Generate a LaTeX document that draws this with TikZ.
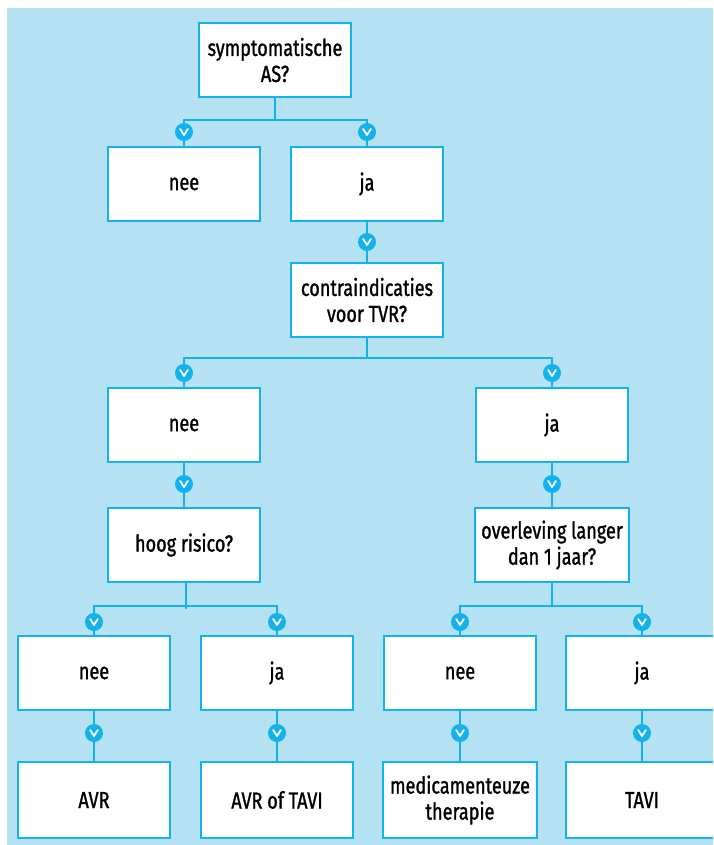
\documentclass[tikz,border=0pt]{standalone}
\usepackage{fontspec}
\setmainfont{Fira Sans}[FakeStretch=0.78, FakeBold=1.2]
\definecolor{lineblue}{RGB}{20,178,234}
\definecolor{bgblue}{RGB}{181,226,242}

\begin{document}
\begin{tikzpicture}[x=0.5pt,y=-0.5pt]
  \tikzstyle{box} = [rectangle, draw=lineblue, line width=1pt, fill=white, minimum width=76pt, minimum height=37pt, align=center, font=\fontsize{11.6}{13}\selectfont]
  \tikzstyle{chev} = [circle, fill=lineblue, minimum size=9pt, inner sep=0pt,
    path picture={\draw[white, line width=0.9pt, line cap=round, line join=round]
      ([shift={(-1.9pt,1.5pt)}]path picture bounding box.center) --
      ([shift={(0pt,-1.5pt)}]path picture bounding box.center) --
      ([shift={(1.9pt,1.5pt)}]path picture bounding box.center);}]
  \tikzstyle{link} = [draw=lineblue, line width=0.8pt]

  \clip (0,0) rectangle (713,845);
  \fill [bgblue] (7,8) rectangle (713,845);

  % Level 1
  \node [box] (sympt) at (275,60) {symptomatische\\AS?};
  \coordinate (s1) at (275,120);
  \node [chev] (v1a) at (184,132) {};
  \node [chev] (v1b) at (367,132) {};
  \node [box] (nee1) at (184,184) {nee};
  \node [box] (ja1) at (367,184) {ja};

  % Level 2
  \node [chev] (v2) at (367,242) {};
  \node [box] (contra) at (367,300) {contraindicaties\\voor TVR?};
  \coordinate (s3) at (367,358);
  \node [chev] (v3a) at (184,373) {};
  \node [chev] (v3b) at (552,373) {};
  \node [box] (nee3) at (184,425) {nee};
  \node [box] (ja3) at (552,425) {ja};

  % Level 3
  \node [chev] (v4a) at (184,484) {};
  \node [chev] (v4b) at (552,484) {};
  \node [box] (hoog) at (184,545) {hoog risico?};
  \node [box] (overl) at (552,545) {overleving langer\\dan 1 jaar?};
  \coordinate (s5a) at (186,606);
  \coordinate (s5b) at (552,606);
  \node [chev] (v5a) at (94,622) {};
  \node [chev] (v5b) at (277,622) {};
  \node [chev] (v5c) at (460,622) {};
  \node [chev] (v5d) at (642,622) {};
  \node [box] (nee5a) at (94,673) {nee};
  \node [box] (ja5b) at (277,673) {ja};
  \node [box] (nee5c) at (460,673) {nee};
  \node [box] (ja5d) at (642,673) {ja};

  % Outcomes
  \node [chev] (v6a) at (94,733) {};
  \node [chev] (v6b) at (277,733) {};
  \node [chev] (v6c) at (460,733) {};
  \node [chev] (v6d) at (642,733) {};
  \node [box, minimum height=38pt] (avr) at (94,800) {AVR};
  \node [box, minimum height=38pt] (avrtavi) at (277,800) {AVR of TAVI};
  \node [box, minimum height=38pt] (medic) at (460,800) {medicamenteuze\\therapie};
  \node [box, minimum height=38pt] (tavi) at (642,800) {TAVI};

  % Connectors
  \draw [link] (sympt) -- (s1) -| (v1a);
  \draw [link] (s1) -| (v1b);
  \draw [link] (v1a) -- (nee1);
  \draw [link] (v1b) -- (ja1);
  \draw [link] (ja1) -- (v2);
  \draw [link] (v2) -- (contra);
  \draw [link] (contra) -- (s3) -| (v3a);
  \draw [link] (s3) -| (v3b);
  \draw [link] (v3a) -- (nee3);
  \draw [link] (v3b) -- (ja3);
  \draw [link] (nee3) -- (v4a);
  \draw [link] (ja3) -- (v4b);
  \draw [link] (v4a) -- (hoog);
  \draw [link] (v4b) -- (overl);
  \draw [link] (hoog.south -| s5a) -- ++(0,26);
  \draw [link] (s5a) -| (v5a);
  \draw [link] (s5a) -| (v5b);
  \draw [link] (overl) -- (s5b) -| (v5c);
  \draw [link] (s5b) -| (v5d);
  \foreach \a/\b/\c in {v5a/nee5a/v6a, v5b/ja5b/v6b, v5c/nee5c/v6c, v5d/ja5d/v6d}
    \draw [link] (\a) -- (\b) -- (\c);
  \draw [link] (v6a) -- (avr);
  \draw [link] (v6b) -- (avrtavi);
  \draw [link] (v6c) -- (medic);
  \draw [link] (v6d) -- (tavi);
\end{tikzpicture}
\end{document}
